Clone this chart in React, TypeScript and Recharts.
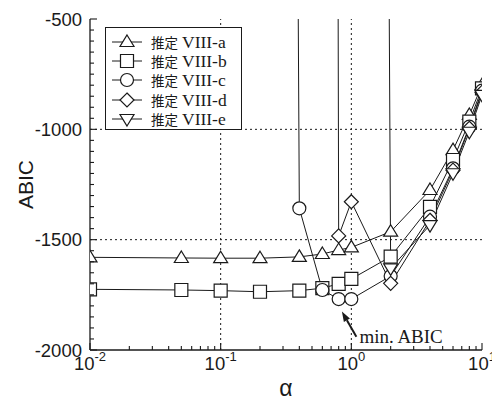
import React from 'react'
import {
  LineChart,
  Line,
  XAxis,
  YAxis,
  ReferenceLine,
  Legend,
} from 'recharts'

// alpha values (hyper-parameter) on the log axis
const ALPHA = [0.01, 0.05, 0.1, 0.2, 0.4, 0.6, 0.8, 1, 2, 4, 6, 8, 10]

// ABIC for each estimate; huge values run off the top of the plot
const ABIC_A = [-1580, -1583, -1584, -1584, -1578, -1565, -1547, -1535, -1464, -1275, -1094, -935, -800]
const ABIC_B = [-1725, -1728, -1731, -1736, -1731, -1720, -1700, -1678, -1577, -1351, -1139, -965, -814]
const ABIC_C = [null, null, null, 30000, -1358, -1728, -1769, -1769, -1665, -1396, -1177, -988, -825]
const ABIC_D = [null, null, null, null, null, 30000, -1483, -1328, -1698, -1412, -1185, -995, -832]
const ABIC_E = [null, null, null, null, null, null, null, 30000, -1630, -1434, -1199, -1011, -844]

const SERIES_NAMES = ['推定 VIII-a', '推定 VIII-b', '推定 VIII-c', '推定 VIII-d', '推定 VIII-e']
const SERIES_KEYS = ['a', 'b', 'c', 'd', 'e']
const SERIES_SHAPES = ['triangle', 'square', 'circle', 'diamond', 'triangleDown']

const X_MAJOR = [0.01, 0.1, 1, 10]
const Y_MAJOR = [-2000, -1500, -1000, -500]
const X_GRID = [0.1, 1]
const Y_GRID = [-1500, -1000]

// arrow pointing at the minimum (tip, tail) in data coords
const ARROW_ALPHA = [0.847, 1.093]
const ARROW_ABIC = [-1826, -1940]
const ARROW_TEXT = 'min. ABIC'

const X_TICKS: number[] = []
;[0.01, 0.1, 1].forEach((d) => {
  for (let m = 1; m < 10; m++) X_TICKS.push(m * d)
})
X_TICKS.push(10)

const Y_TICKS: number[] = []
for (let v = -2000; v <= -500; v += 50) Y_TICKS.push(v)

const data = ALPHA.map((alpha, i) => ({
  alpha,
  a: ABIC_A[i],
  b: ABIC_B[i],
  c: ABIC_C[i],
  d: ABIC_D[i],
  e: ABIC_E[i],
}))

const INK = '#1a1a1a'
const SANS = '"Liberation Sans", Arial, sans-serif'
const SERIF = '"Liberation Serif", "Times New Roman", serif'

function markerPath(shape: string, cx: number, cy: number): string {
  const r = 6.5
  switch (shape) {
    case 'triangle':
      return `M${cx},${cy - 7} L${cx + 7},${cy + 4.5} L${cx - 7},${cy + 4.5} Z`
    case 'triangleDown':
      return `M${cx},${cy + 7} L${cx + 7},${cy - 4.5} L${cx - 7},${cy - 4.5} Z`
    case 'square':
      return `M${cx - r},${cy - r} h${2 * r} v${2 * r} h${-2 * r} Z`
    case 'diamond':
      return `M${cx},${cy - 7} L${cx + 7},${cy} L${cx},${cy + 7} L${cx - 7},${cy} Z`
    default:
      return `M${cx - r},${cy} a${r},${r} 0 1,0 ${2 * r},0 a${r},${r} 0 1,0 ${-2 * r},0`
  }
}

function Marker({ shape, cx, cy }: { shape: string; cx: number; cy: number }) {
  return <path d={markerPath(shape, cx, cy)} fill="#fff" stroke={INK} strokeWidth={1.2} />
}

const BottomTick = ({ x, y, payload }: any) => {
  const v = payload.value
  const major = X_MAJOR.includes(v)
  const exp = Math.round(Math.log10(v))
  return (
    <g>
      <line x1={x} x2={x} y1={y} y2={y - (major ? 7 : 4)} stroke={INK} strokeWidth={1.1} />
      {major && (
        <text x={x} y={y + 20} textAnchor="middle" fontFamily={SANS} fontSize={18.5} fill={INK}>
          <tspan>10</tspan>
          <tspan dy={-9} fontSize={13}>{exp}</tspan>
        </text>
      )}
    </g>
  )
}

const TopTick = ({ x, y, payload }: any) => {
  const major = X_MAJOR.includes(payload.value)
  return <line x1={x} x2={x} y1={y} y2={y + (major ? 7 : 4)} stroke={INK} strokeWidth={1.1} />
}

const LeftTick = ({ x, y, payload }: any) => {
  const major = Y_MAJOR.includes(payload.value)
  return (
    <g>
      <line x1={x} x2={x + (major ? 7 : 4)} y1={y} y2={y} stroke={INK} strokeWidth={1.1} />
      {major && (
        <text x={x - 8} y={y} textAnchor="end" dominantBaseline="central" fontFamily={SANS} fontSize={18.5} fill={INK}>
          {payload.value}
        </text>
      )}
    </g>
  )
}

const RightTick = ({ x, y, payload }: any) => {
  const major = Y_MAJOR.includes(payload.value)
  return <line x1={x} x2={x - (major ? 7 : 4)} y1={y} y2={y} stroke={INK} strokeWidth={1.1} />
}

const ArrowShape = (props: any) => {
  const { x1, y1, x2, y2 } = props
  const ang = Math.atan2(y1 - y2, x1 - x2)
  const len = 10
  const w = 3.5
  const bx = x1 - len * Math.cos(ang)
  const by = y1 - len * Math.sin(ang)
  const px = -Math.sin(ang) * w
  const py = Math.cos(ang) * w
  return (
    <g>
      <line x1={x2} y1={y2} x2={bx} y2={by} stroke={INK} strokeWidth={2} />
      <path d={`M${x1},${y1} L${bx + px},${by + py} L${bx - px},${by - py} Z`} fill={INK} />
      <text x={x2 + 3} y={y2} dominantBaseline="central" fontFamily={SERIF} fontSize={19} fill={INK}>
        {ARROW_TEXT}
      </text>
    </g>
  )
}

function LegendBox() {
  return (
    <div
      style={{
        width: 135,
        height: 97,
        border: `1px solid ${INK}`,
        background: '#fff',
        paddingTop: 4,
        boxSizing: 'content-box',
      }}
    >
      {SERIES_NAMES.map((name, i) => {
        const [kanji, latin] = name.split(' ')
        return (
          <div key={name} style={{ display: 'flex', alignItems: 'center', height: 19.3 }}>
            <svg width={30} height={18} style={{ marginLeft: 6, marginRight: 9 }}>
              <line x1={0} x2={30} y1={9} y2={9} stroke={INK} />
              <Marker shape={SERIES_SHAPES[i]} cx={15} cy={9} />
            </svg>
            <span style={{ fontFamily: '"Noto Sans CJK JP", sans-serif', fontSize: 13.5, color: INK, lineHeight: '18px' }}>{kanji}</span>
            <span style={{ fontFamily: SERIF, fontSize: 17.5, color: INK, marginLeft: 4, lineHeight: '18px' }}>{latin}</span>
          </div>
        )
      })}
    </div>
  )
}

export default function App() {
  return (
    <div style={{ position: 'absolute', left: 0, top: 0, width: 492, height: 401, background: '#fff' }}>
      <LineChart width={492} height={401} data={data} margin={{ top: 19, right: 10, bottom: 0, left: 10 }}>
        <XAxis
          dataKey="alpha"
          type="number"
          scale="log"
          domain={[0.01, 10]}
          allowDataOverflow
          ticks={X_TICKS}
          interval={0}
          height={51}
          tickSize={0}
          tickMargin={0}
          tick={BottomTick}
          axisLine={{ stroke: INK, strokeWidth: 1.3 }}
          label={{
            content: (p: any) => {
              const vb = p.viewBox
              return (
                <text x={vb.x + vb.width / 2} y={vb.y + 38} textAnchor="middle" dominantBaseline="central" fontFamily={SANS} fontSize={23} fill={INK}>
                  α
                </text>
              )
            },
          }}
        />
        <XAxis
          xAxisId="top"
          orientation="top"
          type="number"
          scale="log"
          domain={[0.01, 10]}
          allowDataOverflow
          ticks={X_TICKS}
          interval={0}
          height={0}
          tickSize={0}
          tickMargin={0}
          tick={TopTick}
          axisLine={{ stroke: INK, strokeWidth: 1.3 }}
        />
        <YAxis
          type="number"
          domain={[-2000, -500]}
          allowDataOverflow
          ticks={Y_TICKS}
          interval={0}
          width={80}
          tickSize={0}
          tickMargin={0}
          tick={LeftTick}
          axisLine={{ stroke: INK, strokeWidth: 1.3 }}
          label={{
            content: (p: any) => {
              const vb = p.viewBox
              const cx = vb.x + 15
              const cy = vb.y + vb.height / 2
              return (
                <text x={cx} y={cy} transform={`rotate(-90, ${cx}, ${cy})`} textAnchor="middle" dominantBaseline="central" fontFamily={SANS} fontSize={21} fill={INK}>
                  ABIC
                </text>
              )
            },
          }}
        />
        <YAxis
          yAxisId="right"
          orientation="right"
          type="number"
          domain={[-2000, -500]}
          allowDataOverflow
          ticks={Y_TICKS}
          interval={0}
          width={0}
          tickSize={0}
          tickMargin={0}
          tick={RightTick}
          axisLine={{ stroke: INK, strokeWidth: 1.3 }}
        />

        {X_GRID.map((v) => (
          <ReferenceLine key={`gx${v}`} x={v} stroke={INK} strokeDasharray="2 3" />
        ))}
        {Y_GRID.map((v) => (
          <ReferenceLine key={`gy${v}`} y={v} stroke={INK} strokeDasharray="2 3" />
        ))}

        {SERIES_KEYS.map((k, i) => (
          <Line
            key={k}
            dataKey={k}
            name={SERIES_NAMES[i]}
            type="linear"
            stroke={INK}
            strokeWidth={1}
            isAnimationActive={false}
            activeDot={false}
            dot={(p: any) => {
              if (p.cy == null || p.cx == null || isNaN(p.cy)) return <g key={`${k}-${p.index}`} />
              return (
                <g key={`${k}-${p.index}`}>
                  <Marker shape={SERIES_SHAPES[i]} cx={p.cx} cy={p.cy} />
                </g>
              )
            }}
          />
        ))}

        <ReferenceLine
          segment={[
            { x: ARROW_ALPHA[0], y: ARROW_ABIC[0] },
            { x: ARROW_ALPHA[1], y: ARROW_ABIC[1] },
          ]}
          stroke={INK}
          shape={ArrowShape}
        />

        <Legend
          layout="vertical"
          align="center"
          verticalAlign="middle"
          content={() => <LegendBox />}
          wrapperStyle={{ left: 105, top: 27, width: 137, height: 103 }}
        />
      </LineChart>
    </div>
  )
}
